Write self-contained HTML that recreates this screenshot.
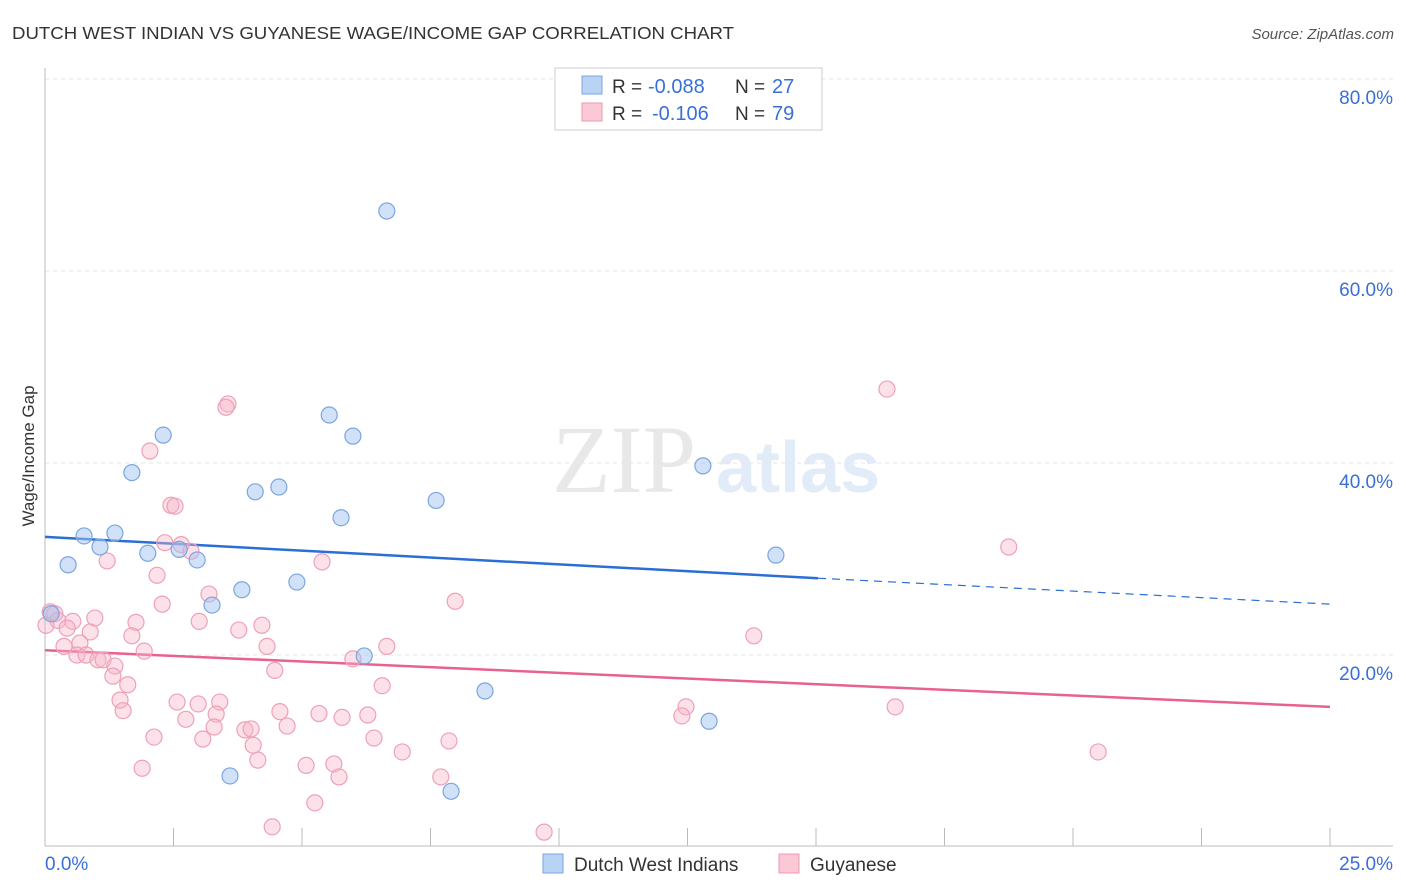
<!DOCTYPE html>
<html><head><meta charset="utf-8"><style>
body{margin:0;background:#fff;width:1406px;height:892px;overflow:hidden;font-family:"Liberation Sans",sans-serif}
svg{display:block}
</style></head><body>
<svg id="chart" width="1406" height="892">
<text x="12" y="39" font-size="17.5" fill="#333" textLength="722" lengthAdjust="spacingAndGlyphs">DUTCH WEST INDIAN VS GUYANESE WAGE/INCOME GAP CORRELATION CHART</text>
<text x="1394" y="39" font-size="15" fill="#555" font-style="italic" text-anchor="end">Source: ZipAtlas.com</text>
<g>
<text x="552" y="492" font-size="96" fill="#e8e8e8" font-family="Liberation Serif,serif">ZIP</text>
<text x="716" y="492" font-size="72" fill="#e2ecf8" font-weight="bold">atlas</text>
</g>
<g id="grid"></g>
<g id="axes"></g>
<g id="lines"></g>
<g id="pts"></g>
<text x="34" y="456" font-size="17" fill="#333" text-anchor="middle" transform="rotate(-90 34 456)">Wage/Income Gap</text>
<g>
<rect x="555" y="68" width="267" height="62" fill="#fff" stroke="#ccc"/>
<rect x="582" y="76" width="20" height="18" fill="#b9d3f5" stroke="#7aa6e0"/>
<rect x="582" y="103" width="20" height="18" fill="#fbc8d6" stroke="#ee9ab5"/>
<text x="612" y="93" font-size="19" fill="#333">R =</text>
<text x="648" y="93" font-size="20" fill="#3a6fd8">-0.088</text>
<text x="735" y="93" font-size="19" fill="#333">N =</text>
<text x="772" y="93" font-size="20" fill="#3a6fd8">27</text>
<text x="612" y="120" font-size="19" fill="#333">R =</text>
<text x="652" y="120" font-size="20" fill="#3a6fd8">-0.106</text>
<text x="735" y="120" font-size="19" fill="#333">N =</text>
<text x="772" y="120" font-size="20" fill="#3a6fd8">79</text>
</g>
<g>
<rect x="543" y="854" width="20" height="19" fill="#b9d3f5" stroke="#7aa6e0"/>
<text x="574" y="871" font-size="19" fill="#333">Dutch West Indians</text>
<rect x="779" y="854" width="20" height="19" fill="#fbc8d6" stroke="#ee9ab5"/>
<text x="810" y="871" font-size="19" fill="#333">Guyanese</text>
</g>
</svg>
<script>
const xTicks=[0,2.5,5,7.5,10,12.5,15,17.5,20,22.5,25];
const yTicks=[20,40,60,80];
const yTickLabels=["20.0%","40.0%","60.0%","80.0%"];
const blueX=[6.65,2.30,5.53,5.99,1.69,4.55,4.09,7.61,5.76,12.80,0.76,1.36,1.07,2.00,2.61,2.96,0.45,14.22,3.83,4.90,3.25,0.12,6.21,8.56,12.92,3.60,7.90];
const blueY=[66.25,42.9,45.0,42.8,39.0,37.5,37.0,36.1,34.3,39.7,32.4,32.7,31.25,30.6,31.0,29.9,29.4,30.4,26.8,27.6,25.2,24.3,19.9,16.25,13.1,7.4,5.8];
const pinkX=[16.38,3.56,3.52,2.04,2.45,2.53,18.75,2.33,2.65,2.84,1.21,5.39,2.18,3.19,2.28,7.98,0.10,0.19,0.25,0.02,0.54,0.97,1.77,3.00,4.22,3.77,0.43,0.88,1.69,13.79,4.32,6.65,0.37,0.68,1.93,0.62,0.80,1.03,1.13,5.99,1.36,4.47,1.32,1.61,6.56,1.46,2.57,2.98,3.40,1.52,3.33,4.57,5.33,5.78,6.28,12.47,12.39,16.54,2.74,3.29,3.89,4.01,4.71,2.12,3.07,4.05,6.40,7.86,6.95,20.49,4.14,5.08,5.62,1.89,5.72,7.70,5.25,4.42,9.71];
const pinkY=[47.7,46.15,45.8,41.25,35.6,35.5,31.25,31.7,31.5,30.8,29.8,29.7,28.3,26.35,25.3,25.6,24.5,24.3,23.6,23.1,23.5,23.85,23.4,23.5,23.1,22.6,22.8,22.4,22.0,22.0,20.9,20.9,20.9,21.25,20.4,20.0,20.0,19.5,19.5,19.6,18.85,18.4,17.8,16.9,16.8,15.3,15.1,14.9,15.1,14.2,13.85,14.1,13.9,13.5,13.75,14.6,13.65,14.6,13.3,12.5,12.2,12.3,12.6,11.45,11.25,10.6,11.35,11.05,9.9,9.9,9.05,8.5,8.65,8.2,7.3,7.3,4.6,2.1,1.55];
const blueTrend=[32.3,28.0,25.3];
const pinkTrend=[20.5,14.6];
const NS="http://www.w3.org/2000/svg";
const sx=v=>45+v*51.4, sy=v=>847-v*9.6;
function mk(tag,attrs,parent){const e=document.createElementNS(NS,tag);for(const k in attrs)e.setAttribute(k,attrs[k]);document.getElementById(parent).appendChild(e);return e;}
yTicks.forEach((t,i)=>{
 const g=mk('line',{x1:45,x2:1393,y1:sy(t),y2:sy(t),stroke:'#e6e6e6','stroke-dasharray':'4,4'},'grid');
 
 
 const l=mk('text',{x:1393,y:sy(t)+25,'font-size':19,fill:'#3a6fd8','text-anchor':'end'},'grid');
 l.textContent=yTickLabels[i];
 
 
});
mk('line',{x1:45,x2:45,y1:68,y2:846,stroke:'#bbb'},'axes');
mk('line',{x1:45,x2:1393,y1:846,y2:846,stroke:'#bbb'},'axes');
xTicks.forEach(t=>{const k=mk('line',{x1:sx(t),x2:sx(t),y1:828,y2:846,stroke:'#bbb'},'axes');
 
 });
const x0=mk('text',{x:45,y:870,'font-size':19,fill:'#3a6fd8'},'axes');x0.textContent=xTicks[0].toFixed(1)+'%';


const x1=mk('text',{x:1393,y:870,'font-size':19,fill:'#3a6fd8','text-anchor':'end'},'axes');x1.textContent=xTicks[10].toFixed(1)+'%';


const bl=mk('line',{x1:sx(0),y1:sy(blueTrend[0]),x2:sx(15.04),y2:sy(blueTrend[1]),stroke:'#2b6fd6','stroke-width':2.5},'lines');


const bd=mk('line',{x1:sx(15.04),y1:sy(blueTrend[1]),x2:sx(25),y2:sy(blueTrend[2]),stroke:'#2b6fd6','stroke-width':1.2,'stroke-dasharray':'8,6'},'lines');


const pl=mk('line',{x1:sx(0),y1:sy(pinkTrend[0]),x2:sx(25),y2:sy(pinkTrend[1]),stroke:'#e8618f','stroke-width':2.5},'lines');


pinkX.forEach((x,i)=>{const c=mk('circle',{cx:sx(x),cy:sy(pinkY[i]),r:8,fill:'rgba(248,180,200,0.4)',stroke:'#eea0b9','stroke-width':1.2},'pts');
 
 });
blueX.forEach((x,i)=>{const c=mk('circle',{cx:sx(x),cy:sy(blueY[i]),r:8,fill:'rgba(164,196,240,0.5)',stroke:'#7aa6e0','stroke-width':1.2},'pts');
 
 });
</script>
</body></html>
